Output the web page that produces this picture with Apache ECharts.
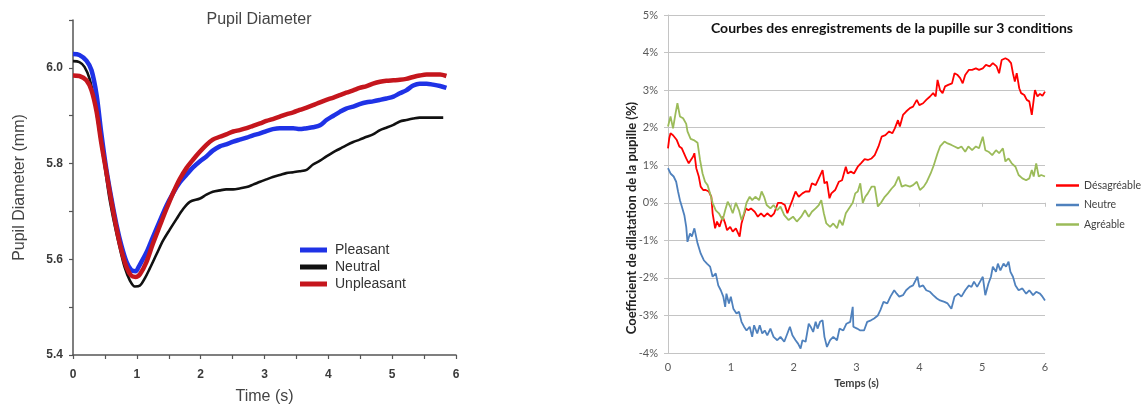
<!DOCTYPE html>
<html><head><meta charset="utf-8">
<script src="https://cdn.jsdelivr.net/npm/echarts@6/dist/echarts.min.js"></script>
<style>html,body{margin:0;padding:0;background:#fff}#c{width:1145px;height:410px}</style>
</head><body><div id="c"></div>
<script>
// ---------- Left chart: Pupil Diameter (mm) ----------
const leftTitle = 'Pupil Diameter';
const leftXName = 'Time (s)';
const leftYName = 'Pupil Diameter (mm)';
const leftNames = ['Pleasant', 'Neutral', 'Unpleasant'];
const pleasant = [[0,6.029],[0.1,6.027],[0.21,6.015],[0.29,5.995],[0.37,5.943],[0.44,5.867],[0.52,5.79],[0.6,5.728],[0.68,5.673],[0.76,5.628],[0.84,5.594],[0.91,5.578],[0.98,5.575],[1.04,5.587],[1.15,5.614],[1.25,5.646],[1.36,5.68],[1.46,5.711],[1.57,5.739],[1.67,5.76],[1.78,5.777],[1.88,5.792],[1.99,5.805],[2.09,5.815],[2.19,5.827],[2.3,5.836],[2.4,5.84],[2.51,5.846],[2.61,5.85],[2.72,5.854],[2.82,5.859],[2.93,5.863],[3.03,5.868],[3.13,5.872],[3.24,5.874],[3.34,5.874],[3.45,5.874],[3.55,5.872],[3.66,5.874],[3.76,5.876],[3.87,5.88],[3.97,5.891],[4.08,5.9],[4.18,5.908],[4.28,5.915],[4.39,5.919],[4.49,5.924],[4.6,5.928],[4.7,5.93],[4.81,5.933],[4.91,5.936],[5.02,5.94],[5.12,5.947],[5.22,5.953],[5.33,5.963],[5.43,5.967],[5.54,5.967],[5.64,5.965],[5.75,5.962],[5.85,5.958]];
const neutral = [[0,6.014],[0.1,6.012],[0.18,6.002],[0.26,5.977],[0.34,5.929],[0.42,5.86],[0.5,5.791],[0.57,5.728],[0.65,5.673],[0.73,5.625],[0.81,5.583],[0.89,5.556],[0.97,5.543],[1.05,5.545],[1.12,5.559],[1.2,5.58],[1.31,5.611],[1.41,5.639],[1.52,5.663],[1.62,5.684],[1.72,5.704],[1.83,5.72],[1.99,5.727],[2.09,5.735],[2.19,5.741],[2.3,5.744],[2.4,5.746],[2.51,5.746],[2.61,5.748],[2.72,5.751],[2.82,5.756],[2.93,5.762],[3.03,5.767],[3.13,5.772],[3.24,5.776],[3.34,5.78],[3.45,5.782],[3.55,5.784],[3.66,5.787],[3.76,5.798],[3.87,5.806],[3.97,5.815],[4.08,5.824],[4.18,5.831],[4.28,5.838],[4.39,5.845],[4.49,5.85],[4.6,5.856],[4.7,5.861],[4.81,5.87],[4.91,5.875],[5.02,5.881],[5.12,5.888],[5.22,5.891],[5.33,5.894],[5.43,5.896],[5.54,5.896],[5.64,5.896],[5.8,5.896]];
const unpleasant = [[0,5.984],[0.1,5.983],[0.21,5.974],[0.29,5.953],[0.37,5.908],[0.44,5.846],[0.52,5.784],[0.6,5.722],[0.68,5.666],[0.76,5.618],[0.84,5.583],[0.91,5.566],[0.98,5.563],[1.05,5.569],[1.15,5.594],[1.25,5.632],[1.36,5.67],[1.46,5.704],[1.57,5.739],[1.67,5.767],[1.78,5.791],[1.88,5.808],[1.99,5.825],[2.09,5.839],[2.19,5.85],[2.3,5.856],[2.4,5.861],[2.51,5.867],[2.61,5.87],[2.72,5.874],[2.82,5.879],[2.93,5.884],[3.03,5.889],[3.13,5.893],[3.24,5.898],[3.34,5.903],[3.45,5.907],[3.55,5.912],[3.66,5.917],[3.76,5.922],[3.87,5.928],[3.97,5.933],[4.08,5.938],[4.18,5.943],[4.28,5.948],[4.39,5.953],[4.49,5.958],[4.6,5.962],[4.7,5.967],[4.81,5.971],[4.91,5.973],[5.02,5.974],[5.12,5.975],[5.22,5.977],[5.33,5.981],[5.43,5.984],[5.54,5.986],[5.64,5.986],[5.75,5.986],[5.85,5.983]];

// ---------- Right chart: Coefficient de dilatation (%) ----------
const rightTitle = 'Courbes des enregistrements de la pupille sur 3 conditions';
const rightXName = 'Temps (s)';
const rightYName = 'Coefficient de dilatation de la pupille (%)';
const rightNames = ['Désagréable', 'Neutre', 'Agréable'];
const desagreable = [[0,1.45],[0.02,1.72],[0.04,1.85],[0.08,1.8],[0.11,1.76],[0.14,1.67],[0.18,1.5],[0.22,1.45],[0.25,1.5],[0.29,1.18],[0.33,1.05],[0.36,1.0],[0.4,1.23],[0.42,1.32],[0.45,0.92],[0.49,0.7],[0.52,0.43],[0.56,0.34],[0.6,0.34],[0.65,0.3],[0.69,0.16],[0.71,-0.28],[0.75,-0.68],[0.78,-0.5],[0.82,-0.64],[0.87,-0.37],[0.91,-0.55],[0.94,-0.73],[0.99,-0.64],[1.03,-0.77],[1.08,-0.68],[1.11,-0.73],[1.14,-0.9],[1.17,-0.55],[1.2,-0.37],[1.24,-0.15],[1.28,-0.2],[1.32,-0.15],[1.38,-0.24],[1.43,-0.37],[1.48,-0.28],[1.53,-0.37],[1.58,-0.28],[1.64,-0.37],[1.69,-0.28],[1.75,0],[1.8,0],[1.86,-0.06],[1.9,-0.28],[1.94,-0.1],[1.98,0.07],[2.03,0.3],[2.08,0.16],[2.14,0.25],[2.19,0.3],[2.25,0.3],[2.29,0.52],[2.35,0.47],[2.4,0.65],[2.46,0.87],[2.49,0.52],[2.53,0.56],[2.57,0.12],[2.6,0.25],[2.66,0.34],[2.72,0.56],[2.77,0.6],[2.83,0.96],[2.86,0.78],[2.91,0.83],[2.96,0.78],[3.02,0.96],[3.07,1.05],[3.13,1.16],[3.18,1.14],[3.24,1.18],[3.29,1.27],[3.35,1.5],[3.4,1.76],[3.46,1.8],[3.52,1.9],[3.57,1.85],[3.61,1.98],[3.66,2.2],[3.69,2.03],[3.74,2.34],[3.79,2.43],[3.85,2.52],[3.9,2.56],[3.96,2.74],[4.0,2.6],[4.06,2.65],[4.11,2.74],[4.17,2.83],[4.22,2.92],[4.26,2.83],[4.29,3.27],[4.33,3.0],[4.37,2.92],[4.41,3.1],[4.46,3.14],[4.52,3.18],[4.56,3.45],[4.61,3.4],[4.65,3.32],[4.69,3.18],[4.73,3.4],[4.79,3.54],[4.84,3.54],[4.9,3.58],[4.95,3.54],[5.01,3.58],[5.06,3.67],[5.12,3.63],[5.17,3.72],[5.23,3.63],[5.27,3.45],[5.31,3.8],[5.37,3.85],[5.42,3.8],[5.46,3.72],[5.49,3.45],[5.52,3.23],[5.55,3.45],[5.59,3.05],[5.62,2.92],[5.67,2.87],[5.71,2.74],[5.75,2.7],[5.79,2.34],[5.82,2.74],[5.84,3.0],[5.88,2.83],[5.92,2.9],[5.96,2.85],[6.0,2.96]];
const neutre = [[0,0.92],[0.04,0.78],[0.07,0.83],[0.09,0.7],[0.13,0.56],[0.16,0.3],[0.19,0.07],[0.22,-0.1],[0.26,-0.33],[0.29,-0.64],[0.31,-1.04],[0.35,-0.82],[0.38,-0.9],[0.42,-0.68],[0.47,-1.08],[0.52,-1.35],[0.57,-1.53],[0.62,-1.62],[0.67,-1.7],[0.71,-1.97],[0.76,-1.88],[0.8,-2.2],[0.84,-2.33],[0.88,-2.5],[0.91,-2.77],[0.93,-2.42],[0.97,-2.68],[1.0,-2.5],[1.04,-2.82],[1.09,-2.95],[1.13,-2.9],[1.17,-3.17],[1.21,-3.3],[1.25,-3.4],[1.3,-3.3],[1.34,-3.57],[1.37,-3.26],[1.42,-3.48],[1.46,-3.26],[1.5,-3.48],[1.54,-3.4],[1.58,-3.53],[1.63,-3.35],[1.68,-3.57],[1.74,-3.66],[1.79,-3.57],[1.85,-3.7],[1.9,-3.48],[1.94,-3.3],[1.98,-3.53],[2.03,-3.66],[2.07,-3.75],[2.11,-3.88],[2.14,-3.66],[2.19,-3.7],[2.24,-3.22],[2.27,-3.3],[2.31,-3.44],[2.35,-3.17],[2.38,-3.35],[2.42,-3.17],[2.46,-3.13],[2.49,-3.57],[2.53,-3.84],[2.58,-3.66],[2.63,-3.57],[2.69,-3.66],[2.73,-3.35],[2.79,-3.4],[2.84,-3.22],[2.9,-3.17],[2.94,-2.77],[2.95,-3.3],[3.01,-3.35],[3.06,-3.4],[3.12,-3.4],[3.17,-3.17],[3.23,-3.13],[3.28,-3.08],[3.34,-3.0],[3.38,-2.86],[3.43,-2.64],[3.49,-2.68],[3.54,-2.5],[3.6,-2.33],[3.64,-2.42],[3.68,-2.5],[3.74,-2.46],[3.79,-2.33],[3.85,-2.24],[3.9,-2.2],[3.97,-1.97],[4.0,-2.24],[4.06,-2.2],[4.11,-2.33],[4.17,-2.37],[4.22,-2.46],[4.28,-2.55],[4.33,-2.6],[4.4,-2.64],[4.45,-2.68],[4.51,-2.82],[4.56,-2.5],[4.62,-2.42],[4.67,-2.5],[4.73,-2.33],[4.79,-2.2],[4.83,-2.24],[4.87,-2.1],[4.92,-2.24],[4.98,-2.06],[5.01,-1.97],[5.05,-2.46],[5.1,-2.15],[5.14,-1.97],[5.17,-1.7],[5.22,-1.84],[5.25,-1.62],[5.29,-1.8],[5.34,-1.62],[5.38,-1.7],[5.42,-1.57],[5.45,-1.84],[5.49,-1.97],[5.53,-2.2],[5.58,-2.33],[5.64,-2.28],[5.7,-2.42],[5.75,-2.33],[5.81,-2.46],[5.86,-2.37],[5.92,-2.42],[5.96,-2.5],[6.0,-2.6]];
const agreable = [[0,2.03],[0.04,2.3],[0.08,1.98],[0.12,2.38],[0.15,2.65],[0.19,2.3],[0.24,2.25],[0.29,2.1],[0.31,1.9],[0.36,1.7],[0.41,1.67],[0.47,1.6],[0.51,1.14],[0.55,0.78],[0.59,0.56],[0.63,0.47],[0.67,0.25],[0.71,0],[0.76,-0.2],[0.81,-0.28],[0.87,-0.46],[0.91,-0.2],[0.95,0.03],[0.99,-0.1],[1.03,-0.28],[1.08,0],[1.13,-0.2],[1.17,-0.46],[1.21,-0.28],[1.25,0],[1.3,0.16],[1.34,0.07],[1.39,0.16],[1.45,0.07],[1.49,0.3],[1.53,0.16],[1.57,-0.06],[1.63,-0.15],[1.68,-0.06],[1.74,-0.2],[1.79,-0.1],[1.85,-0.33],[1.92,-0.46],[1.99,-0.37],[2.05,-0.5],[2.12,-0.37],[2.18,-0.2],[2.24,-0.37],[2.29,-0.24],[2.35,-0.15],[2.4,-0.06],[2.44,0.07],[2.48,-0.28],[2.52,-0.55],[2.58,-0.64],[2.63,-0.55],[2.69,-0.68],[2.73,-0.46],[2.78,-0.6],[2.83,-0.28],[2.88,-0.15],[2.94,0],[2.98,0.25],[3.02,0.3],[3.06,0.52],[3.1,0],[3.14,0.16],[3.18,0.25],[3.24,0.43],[3.29,0.43],[3.34,-0.1],[3.39,0],[3.45,0.16],[3.5,0.25],[3.56,0.38],[3.61,0.47],[3.67,0.7],[3.72,0.43],[3.78,0.47],[3.85,0.43],[3.9,0.47],[3.96,0.56],[4.01,0.34],[4.07,0.43],[4.12,0.56],[4.18,0.78],[4.23,1.0],[4.29,1.32],[4.33,1.5],[4.4,1.63],[4.45,1.58],[4.51,1.54],[4.56,1.5],[4.62,1.45],[4.67,1.5],[4.73,1.36],[4.78,1.5],[4.84,1.4],[4.9,1.5],[4.95,1.45],[5.01,1.76],[5.05,1.4],[5.1,1.36],[5.16,1.27],[5.22,1.4],[5.27,1.32],[5.33,1.45],[5.37,1.1],[5.42,1.18],[5.47,1.05],[5.53,0.96],[5.58,0.74],[5.64,0.65],[5.7,0.6],[5.75,0.65],[5.79,0.87],[5.82,0.7],[5.86,1.05],[5.9,0.7],[5.94,0.74],[6.0,0.7]];

const chart = echarts.init(document.getElementById('c'), null, {renderer: 'canvas'});
const LS = 'Liberation Sans, Arial, sans-serif';
const LATO = 'Lato, Calibri, sans-serif';
const leftAxisColor = '#555';
const gridGray = '#c4c4c4';

function leftSeries(name, data, color, width, z) {
  return {name, type: 'line', xAxisIndex: 0, yAxisIndex: 0, data, smooth: 0.3, showSymbol: false, z,
    lineStyle: {color, width}, itemStyle: {color}, emphasis: {disabled: true}};
}
function rightSeries(name, data, color, z) {
  return {name, type: 'line', xAxisIndex: 1, yAxisIndex: 1, data, showSymbol: false, z,
    lineStyle: {color, width: 1.8}, itemStyle: {color}, emphasis: {disabled: true}};
}

chart.setOption({
  animation: false,
  backgroundColor: '#fff',
  grid: [
    {left: 73, top: 20, width: 383, height: 338},
    {left: 668, top: 15, width: 377, height: 338}
  ],
  xAxis: [
    {gridIndex: 0, type: 'value', min: 0, max: 6, interval: 0.5,
      axisLine: {show: true, lineStyle: {color: leftAxisColor, width: 1.5}},
      axisTick: {show: true, length: 4, lineStyle: {color: leftAxisColor, width: 1.2}},
      axisLabel: {margin: 14, fontSize: 12, fontWeight: 'bold', color: '#3a3a3a', fontFamily: LS,
        formatter: v => (Math.abs(v - Math.round(v)) < 1e-6 ? String(Math.round(v)) : '')},
      splitLine: {show: false},
      name: leftXName, nameLocation: 'middle', nameGap: 34,
      nameTextStyle: {fontSize: 16, color: '#444', fontFamily: LS}},
    {gridIndex: 1, type: 'value', min: 0, max: 6, interval: 1, position: 'bottom',
      axisLine: {show: false, onZero: false}, axisTick: {show: false},
      axisLabel: {margin: 9, fontSize: 11, color: '#595959', fontFamily: LATO},
      splitLine: {show: false},
      name: rightXName, nameLocation: 'middle', nameGap: 24,
      nameTextStyle: {fontSize: 11, fontWeight: 'bold', color: '#404040', fontFamily: LATO}},
    {gridIndex: 1, type: 'value', min: 0, max: 6, interval: 1, position: 'bottom',
      axisLine: {show: true, onZero: true, lineStyle: {color: gridGray, width: 1}},
      axisTick: {show: true, length: 4, lineStyle: {color: gridGray}},
      axisLabel: {show: false}, splitLine: {show: false}}
  ],
  yAxis: [
    {gridIndex: 0, type: 'value', min: 5.4, max: 6.1, interval: 0.1,
      axisLine: {show: true, lineStyle: {color: leftAxisColor, width: 1.5}},
      axisTick: {show: true, length: 4, lineStyle: {color: leftAxisColor, width: 1.2}},
      axisLabel: {margin: 10, fontSize: 12, fontWeight: 'bold', color: '#3a3a3a', fontFamily: LS,
        formatter: v => { const k = Math.round(v * 10); return (k % 2 === 0 && k <= 60) ? (k / 10).toFixed(1) : ''; }},
      splitLine: {show: false},
      name: leftYName, nameLocation: 'middle', nameGap: 45,
      nameTextStyle: {fontSize: 16, color: '#444', fontFamily: LS}},
    {gridIndex: 1, type: 'value', min: -4, max: 5, interval: 1,
      axisLine: {show: true, onZero: false, lineStyle: {color: gridGray, width: 1}},
      axisTick: {show: true, length: 4, lineStyle: {color: gridGray}},
      axisLabel: {margin: 10, fontSize: 11, color: '#595959', fontFamily: LATO, formatter: '{value}%'},
      splitLine: {show: true, lineStyle: {color: gridGray, width: 1}}}
  ],
  legend: [
    {data: leftNames, orient: 'vertical', left: 295, top: 238, icon: 'rect',
      itemWidth: 27, itemHeight: 5, itemGap: 3, selectedMode: false,
      textStyle: {fontSize: 14, color: '#333', fontFamily: LS, padding: [0, 0, 0, 3]}},
    {data: rightNames, orient: 'vertical', left: 1051, top: 175, icon: 'rect',
      itemWidth: 23, itemHeight: 2.5, itemGap: 8.5, selectedMode: false,
      textStyle: {fontSize: 10.5, color: '#404040', fontFamily: LATO}}
  ],
  graphic: [
    {type: 'text', x: 259, y: 20, style: {text: leftTitle, align: 'center', verticalAlign: 'middle',
      fontSize: 16, fontFamily: LS, fill: '#444'}},
    {type: 'text', x: 892, y: 28, style: {text: rightTitle, align: 'center', verticalAlign: 'middle',
      fontSize: 14, fontWeight: 'bold', fontFamily: LATO, fill: '#111'}},
    {type: 'text', x: 632, y: 218, rotation: Math.PI / 2, style: {text: rightYName, align: 'center', verticalAlign: 'middle',
      fontSize: 13, fontWeight: 'bold', fontFamily: LATO, fill: '#222'}}
  ],
  series: [
    leftSeries('Neutral', neutral, '#111111', 2.6, 2),
    leftSeries('Pleasant', pleasant, '#1f32e6', 4.5, 3),
    leftSeries('Unpleasant', unpleasant, '#c5161d', 4.5, 4),
    rightSeries('Désagréable', desagreable, '#ff0000', 2),
    rightSeries('Neutre', neutre, '#4f81bd', 3),
    rightSeries('Agréable', agreable, '#9bbb59', 4)
  ]
});
</script>
</body></html>
